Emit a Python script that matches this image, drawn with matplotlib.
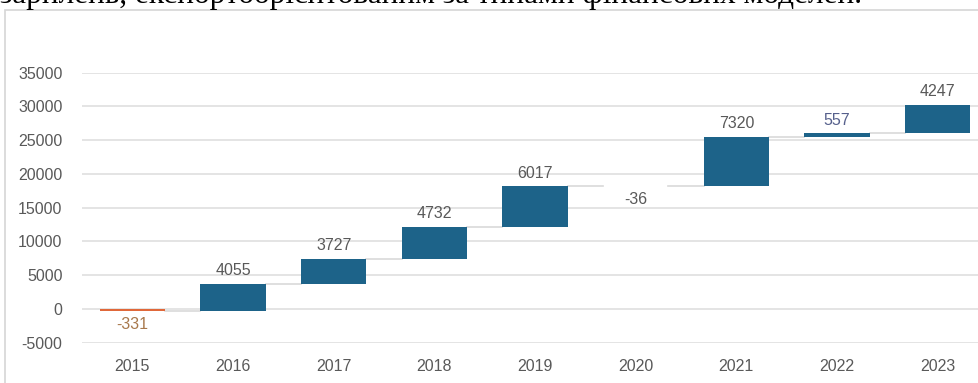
import matplotlib
matplotlib.use("Agg")
import matplotlib.pyplot as plt
import numpy as np
from matplotlib.patches import Rectangle

years = ["2015", "2016", "2017", "2018", "2019", "2020", "2021", "2022", "2023"]
changes = [-331, 4055, 3727, 4732, 6017, -36, 7320, 557, 4247]
label_colors = ["#a8784c", "#595959", "#595959", "#595959", "#595959",
                "#595959", "#595959", "#56608c", "#595959"]
yticks = [-5000, 0, 5000, 10000, 15000, 20000, 25000, 30000, 35000]

plt.rcParams["font.family"] = ["Liberation Sans", "DejaVu Sans"]

ends = np.cumsum(changes)
starts = ends - np.array(changes)
x = np.arange(len(years))
w = 0.65

fig = plt.figure(figsize=(9.79, 3.83), dpi=100)
# caption line of the source page, cut off at the top edge as in the scan
fig.text(0.0, 1 - 3 / 383, "зарплень, експортоорієнтованим за типами фінансових моделей.",
         family="Liberation Serif", fontsize=22.5, va="baseline", ha="left", color="black")
frame_top = 1 - 10 / 383
fig.patches.append(Rectangle((5 / 979, -0.05), 1.1, frame_top + 0.05,
                             transform=fig.transFigure, fill=False,
                             edgecolor="#d6d6d6", linewidth=1.2))

ax = fig.add_axes([82 / 979, 0.1052, (988 - 82) / 979, 0.8102 - 0.1052])
ax.set_facecolor("none")
colors = ["#1d6389" if c >= 0 else "#e0683a" for c in changes]
ax.bar(x, changes, w, bottom=starts, color=colors, zorder=3)

# connector lines
for i in range(len(years) - 1):
    ax.plot([x[i] + w / 2, x[i + 1] - w / 2], [ends[i], ends[i]],
            color="#d9d9d9", linewidth=1.2, zorder=2)

for i, c in enumerate(changes):
    if c >= 0:
        ax.annotate(f"{c}", (x[i], ends[i]), xytext=(0, 4), textcoords="offset points",
                    ha="center", va="bottom", fontsize=11.5, color=label_colors[i])
    else:
        ax.annotate(f"{c}", (x[i], min(starts[i], ends[i])), xytext=(0, -4),
                    textcoords="offset points", ha="center", va="top",
                    fontsize=11.5, color=label_colors[i])

ax.set_xlim(-0.5, len(years) - 0.5)
ax.set_ylim(-5000, 35000)
ax.set_yticks(yticks)
ax.set_yticklabels([str(v) for v in yticks])
ax.set_xticks(x)
ax.set_xticklabels(years)
ax.tick_params(axis="y", length=0, pad=14, labelsize=11.5, labelcolor="#595959")
ax.tick_params(axis="x", length=0, pad=12, labelsize=11.5, labelcolor="#595959")
ax.grid(axis="y", color="#dcdcdc", linewidth=1.1, zorder=0)
for s in ax.spines.values():
    s.set_visible(False)

fig.savefig("out.png", dpi=100)
